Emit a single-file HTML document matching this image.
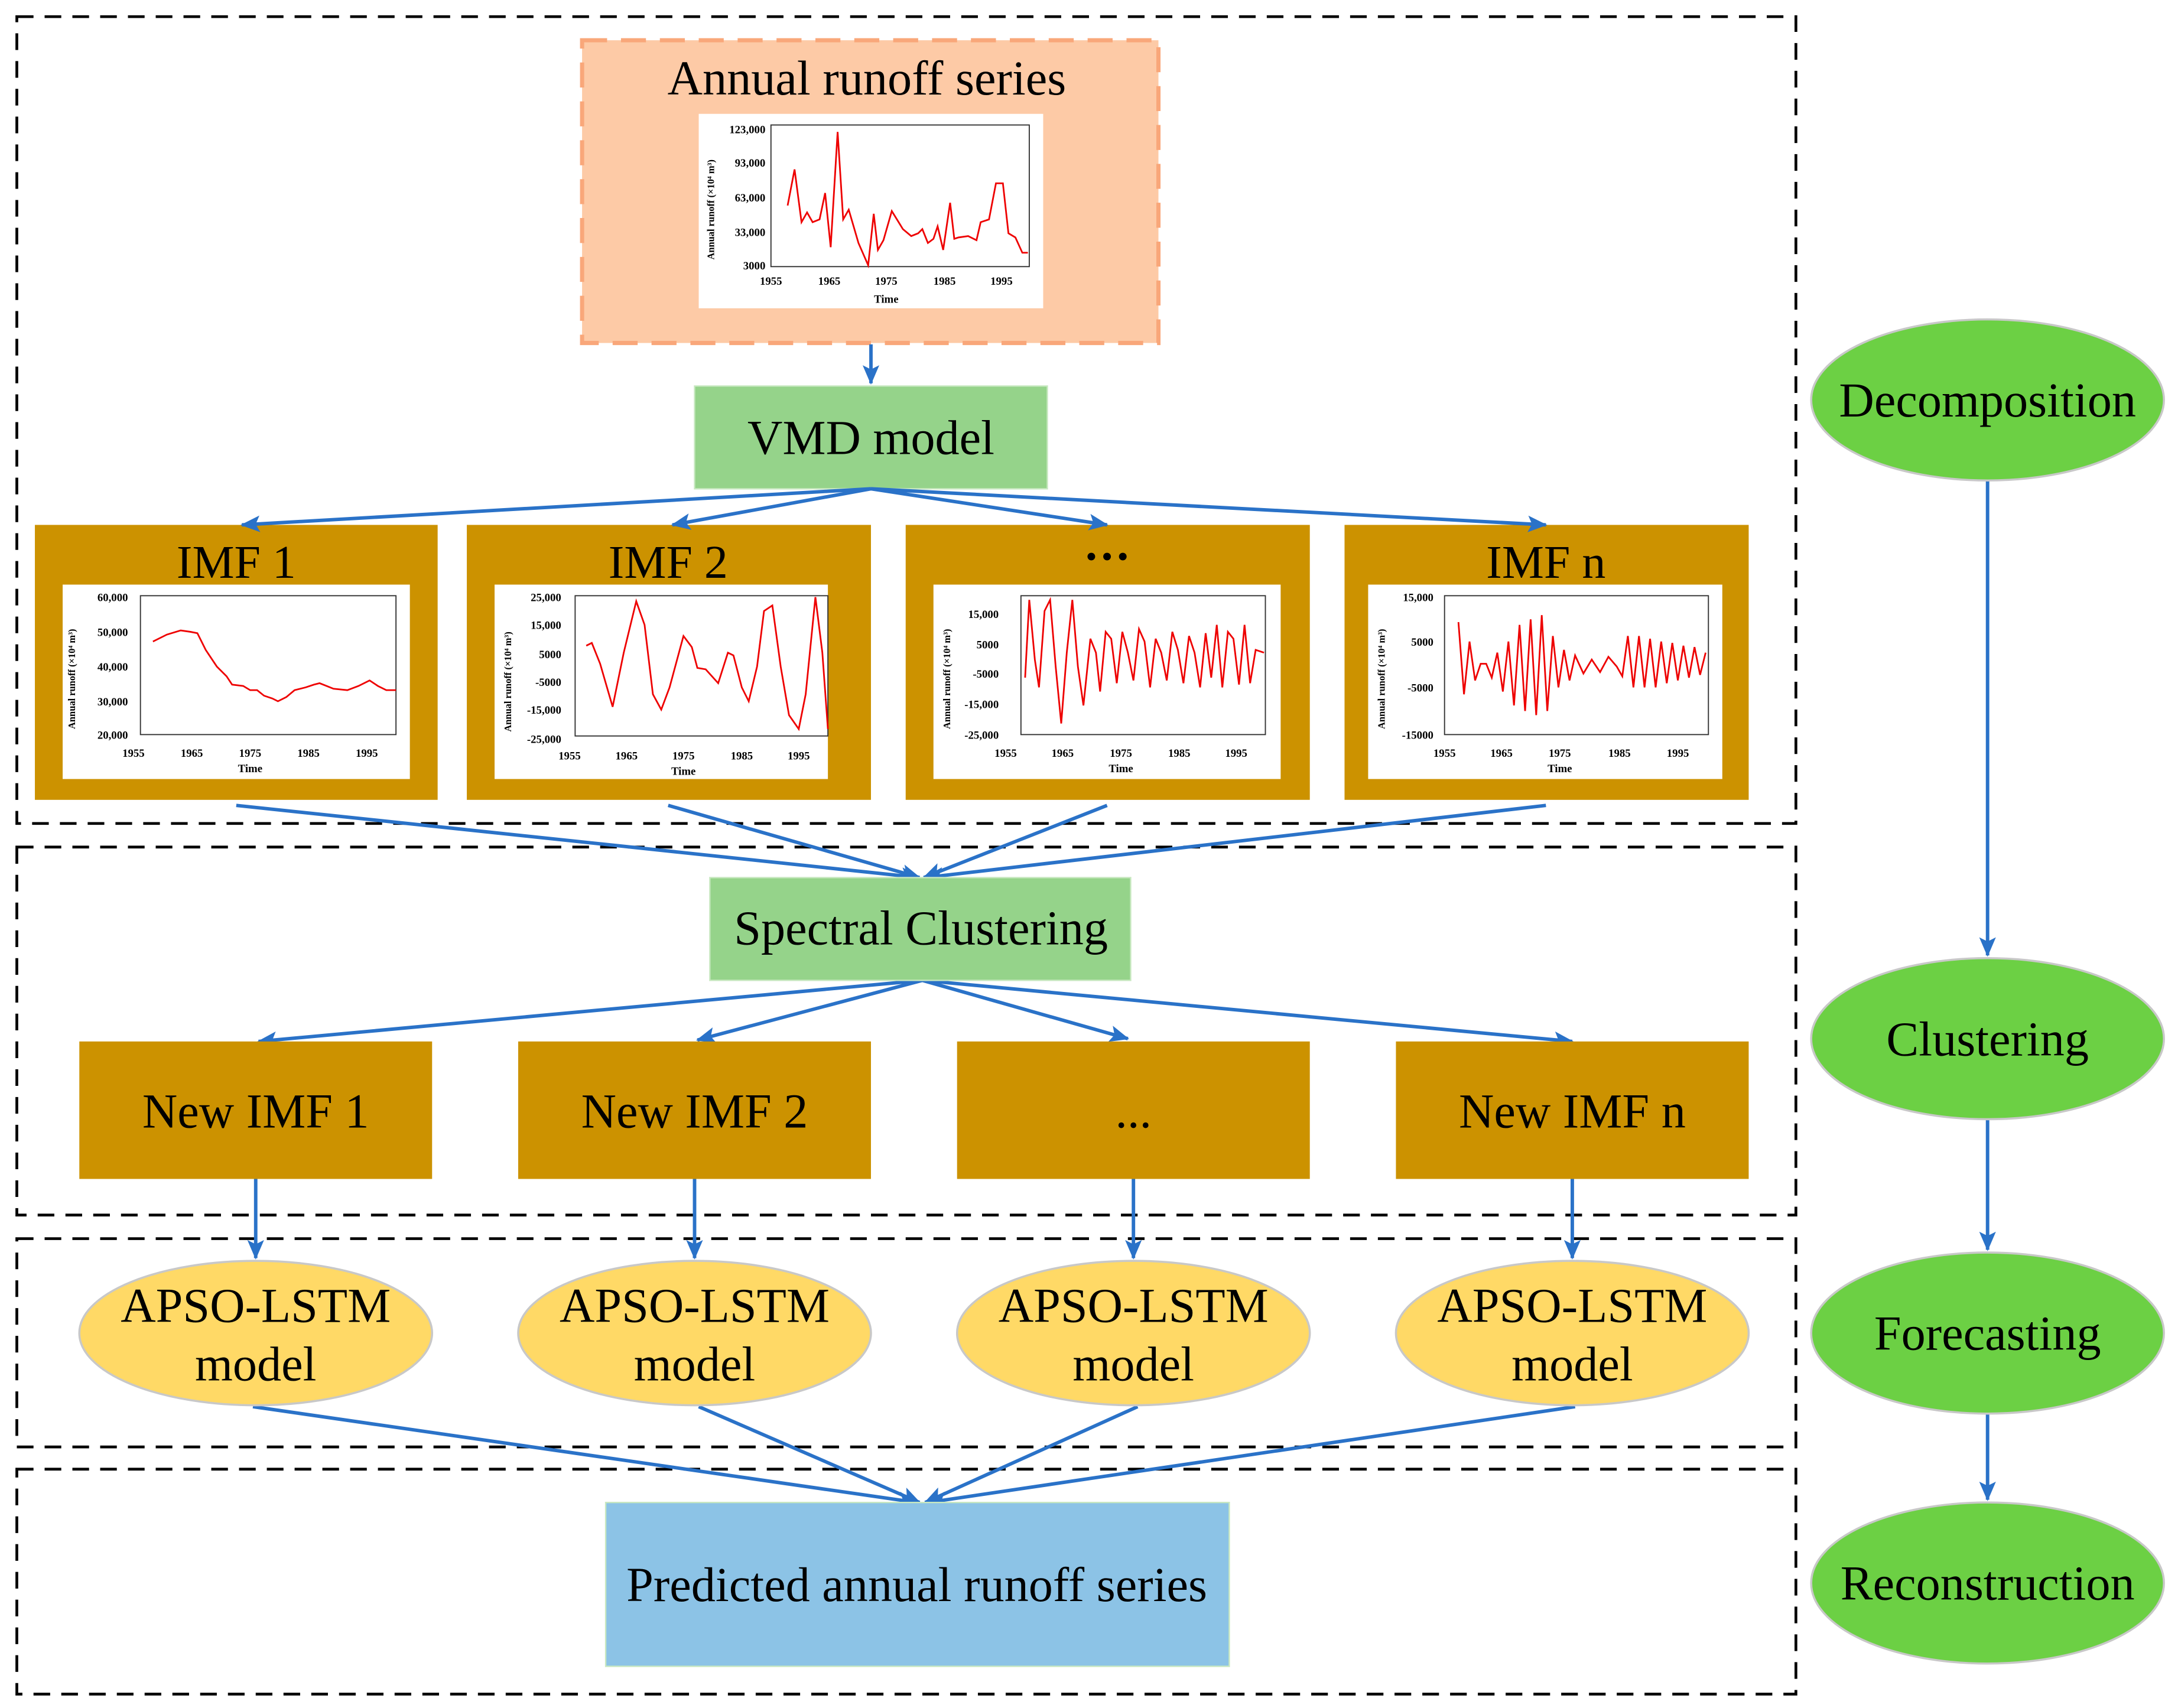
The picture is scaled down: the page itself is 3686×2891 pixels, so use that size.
<!DOCTYPE html>
<html><head><meta charset="utf-8"><style>
html,body{margin:0;padding:0;background:#fff}
svg{display:block}
text{font-family:"Liberation Serif",serif}
</style></head><body>
<svg width="3686" height="2891" viewBox="0 0 1568 1230" xmlns="http://www.w3.org/2000/svg">
<defs>
<marker id="a" markerWidth="14" markerHeight="12" refX="13" refY="6" orient="auto" markerUnits="userSpaceOnUse">
<path d="M0,0 L14,6 L0,12 L3,6 z" fill="#2a72c8"/>
</marker>
</defs>
<rect width="1568" height="1230" fill="#fff"/>
<g fill="none" stroke="#000" stroke-width="2" stroke-dasharray="12,8">
<rect x="12" y="12" width="1281" height="581"/>
<rect x="12" y="610" width="1281" height="265"/>
<rect x="12" y="892" width="1281" height="150"/>
<rect x="12" y="1058" width="1281" height="162"/>
</g>
<rect x="419" y="29" width="415" height="218" fill="#fdcaa6" stroke="#f9a77a" stroke-width="3" stroke-dasharray="18,10"/>
<text x="624" y="68" font-size="35" text-anchor="middle">Annual runoff series</text>
<rect x="503" y="82" width="248" height="140" fill="#fff"/>
<g font-size="8" font-weight="bold">
<rect x="555" y="90" width="186" height="102" fill="none" stroke="#333" stroke-width="0.8"/>
<g text-anchor="end"><text x="551" y="96">123,000</text><text x="551" y="120">93,000</text><text x="551" y="145">63,000</text><text x="551" y="170">33,000</text><text x="551" y="194">3000</text></g>
<g text-anchor="middle"><text x="555" y="205">1955</text><text x="597" y="205">1965</text><text x="638" y="205">1975</text><text x="680" y="205">1985</text><text x="721" y="205">1995</text><text x="638" y="218">Time</text></g>
<text transform="translate(514,187) rotate(-90)" font-size="7">Annual runoff (×10⁴ m³)</text>
</g>
<polyline fill="none" stroke="#e00" stroke-width="1.2" points="567,148 572,122 577,160 581,153 585,160 590,158 594,139 598,178 603,95 607,158 611,151 618,175 625,191 629,154 632,180 636,173 642,152 650,165 656,170 661,168 664,165 668,175 672,172 675,163 679,180 684,146 687,172 690,171 697,170 703,173 706,160 712,158 717,132 722,132 726,168 731,171 736,182 740,182"/>
<line x1="627" y1="248" x2="627" y2="276" stroke="#2a72c8" stroke-width="2.5" marker-end="url(#a)"/>
<rect x="500" y="278" width="254" height="74" fill="#95d38a" stroke="#c8e8c0"/>
<text x="627" y="327" font-size="35" text-anchor="middle">VMD model</text>
<g fill="#cc9200"><rect x="25" y="378" width="290" height="198"/><rect x="336" y="378" width="291" height="198"/><rect x="652" y="378" width="291" height="198"/><rect x="968" y="378" width="291" height="198"/></g>
<g font-size="34" text-anchor="middle"><text x="170" y="416">IMF 1</text><text x="481" y="416">IMF 2</text><text x="797" y="412" font-weight="bold">···</text><text x="1113" y="416">IMF n</text></g>
<g fill="#fff"><rect x="45" y="421" width="250" height="140"/><rect x="356" y="421" width="240" height="140"/><rect x="672" y="421" width="250" height="140"/><rect x="985" y="421" width="255" height="140"/></g>
<g font-size="8" font-weight="bold" fill="#000">
<rect x="101" y="429" width="184" height="100" fill="none" stroke="#333" stroke-width="0.8"/>
<g text-anchor="end"><text x="92" y="433">60,000</text><text x="92" y="458">50,000</text><text x="92" y="483">40,000</text><text x="92" y="508">30,000</text><text x="92" y="532">20,000</text></g>
<g text-anchor="middle"><text x="96" y="545">1955</text><text x="138" y="545">1965</text><text x="180" y="545">1975</text><text x="222" y="545">1985</text><text x="264" y="545">1995</text><text x="180" y="556">Time</text></g>
<text transform="translate(54,525) rotate(-90)" font-size="7">Annual runoff (×10⁴ m³)</text>
<rect x="414" y="429" width="182" height="101" fill="none" stroke="#333" stroke-width="0.8"/>
<g text-anchor="end"><text x="404" y="433">25,000</text><text x="404" y="453">15,000</text><text x="404" y="474">5000</text><text x="404" y="494">-5000</text><text x="404" y="514">-15,000</text><text x="404" y="535">-25,000</text></g>
<g text-anchor="middle"><text x="410" y="547">1955</text><text x="451" y="547">1965</text><text x="492" y="547">1975</text><text x="534" y="547">1985</text><text x="575" y="547">1995</text><text x="492" y="558">Time</text></g>
<text transform="translate(368,527) rotate(-90)" font-size="7">Annual runoff (×10⁴ m³)</text>
<rect x="735" y="429" width="176" height="100" fill="none" stroke="#333" stroke-width="0.8"/>
<g text-anchor="end"><text x="719" y="445">15,000</text><text x="719" y="467">5000</text><text x="719" y="488">-5000</text><text x="719" y="510">-15,000</text><text x="719" y="532">-25,000</text></g>
<g text-anchor="middle"><text x="724" y="545">1955</text><text x="765" y="545">1965</text><text x="807" y="545">1975</text><text x="849" y="545">1985</text><text x="890" y="545">1995</text><text x="807" y="556">Time</text></g>
<text transform="translate(684,525) rotate(-90)" font-size="7">Annual runoff (×10⁴ m³)</text>
<rect x="1040" y="429" width="190" height="100" fill="none" stroke="#333" stroke-width="0.8"/>
<g text-anchor="end"><text x="1032" y="433">15,000</text><text x="1032" y="465">5000</text><text x="1032" y="498">-5000</text><text x="1032" y="532">-15000</text></g>
<g text-anchor="middle"><text x="1040" y="545">1955</text><text x="1081" y="545">1965</text><text x="1123" y="545">1975</text><text x="1166" y="545">1985</text><text x="1208" y="545">1995</text><text x="1123" y="556">Time</text></g>
<text transform="translate(997,525) rotate(-90)" font-size="7">Annual runoff (×10⁴ m³)</text>
</g>
<g fill="none" stroke="#e00" stroke-width="1.2">
<polyline points="110,462 120,457 130,454 137,455 142,456 148,468 156,480 163,487 167,493 175,494 180,497 185,497 190,501 196,503 200,505 206,502 212,497 220,495 226,493 230,492 235,494 240,496 250,497 258,494 266,490 272,494 278,497 285,497"/>
<polyline points="422,465 426,463 432,478 441,509 449,470 458,433 464,450 470,500 476,511 482,495 492,458 498,466 502,481 508,482 517,492 524,470 528,472 534,495 539,505 545,480 550,440 556,436 562,480 568,515 575,525 580,500 587,430 592,470 596,525"/>
<polyline points="738,488 741,432 745,475 748,495 752,440 756,432 760,480 764,521 768,470 772,432 776,480 780,508 785,460 789,470 792,498 796,455 800,460 804,492 808,455 812,470 816,490 820,453 824,462 828,495 832,460 836,470 840,490 844,455 848,468 852,492 856,458 860,470 864,495 868,456 872,488 876,450 880,495 884,455 888,460 892,493 896,450 900,492 904,468 910,470"/>
<polyline points="1050,448 1054,500 1058,462 1062,490 1066,478 1070,478 1074,488 1078,470 1082,498 1086,462 1090,508 1094,450 1098,512 1102,446 1106,515 1110,443 1114,512 1118,458 1122,495 1126,468 1130,490 1134,472 1140,485 1146,475 1152,484 1158,473 1164,480 1168,487 1172,458 1176,495 1180,458 1184,495 1188,460 1192,495 1196,462 1200,492 1204,463 1208,490 1212,465 1216,488 1220,466 1224,486 1228,470"/>
</g>
<g stroke="#2a72c8" stroke-width="2.5" fill="none" marker-end="url(#a)">
<line x1="627" y1="352" x2="174" y2="378"/>
<line x1="627" y1="352" x2="484" y2="378"/>
<line x1="627" y1="352" x2="797" y2="378"/>
<line x1="627" y1="352" x2="1113" y2="378"/>
<line x1="170" y1="580" x2="662" y2="632"/>
<line x1="481" y1="580" x2="662" y2="632"/>
<line x1="797" y1="580" x2="665" y2="632"/>
<line x1="1113" y1="580" x2="666" y2="632"/>
<line x1="664" y1="706" x2="186" y2="750"/>
<line x1="664" y1="706" x2="502" y2="749"/>
<line x1="664" y1="706" x2="812" y2="748"/>
<line x1="664" y1="706" x2="1132" y2="750"/>
<line x1="184" y1="849" x2="184" y2="906"/>
<line x1="500" y1="849" x2="500" y2="906"/>
<line x1="816" y1="849" x2="816" y2="906"/>
<line x1="1132" y1="849" x2="1132" y2="906"/>
<line x1="182" y1="1013" x2="660" y2="1082"/>
<line x1="503" y1="1013" x2="662" y2="1082"/>
<line x1="819" y1="1013" x2="666" y2="1082"/>
<line x1="1134" y1="1013" x2="668" y2="1082"/>
<line x1="1431" y1="346" x2="1431" y2="688"/>
<line x1="1431" y1="806" x2="1431" y2="900"/>
<line x1="1431" y1="1018" x2="1431" y2="1080"/>
</g>
<rect x="511" y="632" width="303" height="74" fill="#95d38a" stroke="#c8e8c0"/>
<text x="663" y="680" font-size="35" text-anchor="middle">Spectral Clustering</text>
<g fill="#cc9200"><rect x="57" y="750" width="254" height="99"/><rect x="373" y="750" width="254" height="99"/><rect x="689" y="750" width="254" height="99"/><rect x="1005" y="750" width="254" height="99"/></g>
<g font-size="35" text-anchor="middle"><text x="184" y="812">New IMF 1</text><text x="500" y="812">New IMF 2</text><text x="816" y="812">...</text><text x="1132" y="812">New IMF n</text></g>
<g fill="#ffd966" stroke="#c8c8c8" stroke-width="1.5"><ellipse cx="184" cy="960" rx="127" ry="52"/><ellipse cx="500" cy="960" rx="127" ry="52"/><ellipse cx="816" cy="960" rx="127" ry="52"/><ellipse cx="1132" cy="960" rx="127" ry="52"/></g>
<g font-size="35" text-anchor="middle">
<text x="184" y="952">APSO-LSTM</text><text x="184" y="994">model</text>
<text x="500" y="952">APSO-LSTM</text><text x="500" y="994">model</text>
<text x="816" y="952">APSO-LSTM</text><text x="816" y="994">model</text>
<text x="1132" y="952">APSO-LSTM</text><text x="1132" y="994">model</text>
</g>
<rect x="436" y="1082" width="449" height="118" fill="#8cc3e6" stroke="#c8e8c0"/>
<text x="660" y="1153" font-size="35" text-anchor="middle">Predicted annual runoff series</text>
<g fill="#6cd044" stroke="#c8c8c8" stroke-width="1.5"><ellipse cx="1431" cy="288" rx="127" ry="58"/><ellipse cx="1431" cy="748" rx="127" ry="58"/><ellipse cx="1431" cy="960" rx="127" ry="58"/><ellipse cx="1431" cy="1140" rx="127" ry="58"/></g>
<g font-size="35" text-anchor="middle"><text x="1431" y="300">Decomposition</text><text x="1431" y="760">Clustering</text><text x="1431" y="972">Forecasting</text><text x="1431" y="1152">Reconstruction</text></g>
</svg>
</body></html>
